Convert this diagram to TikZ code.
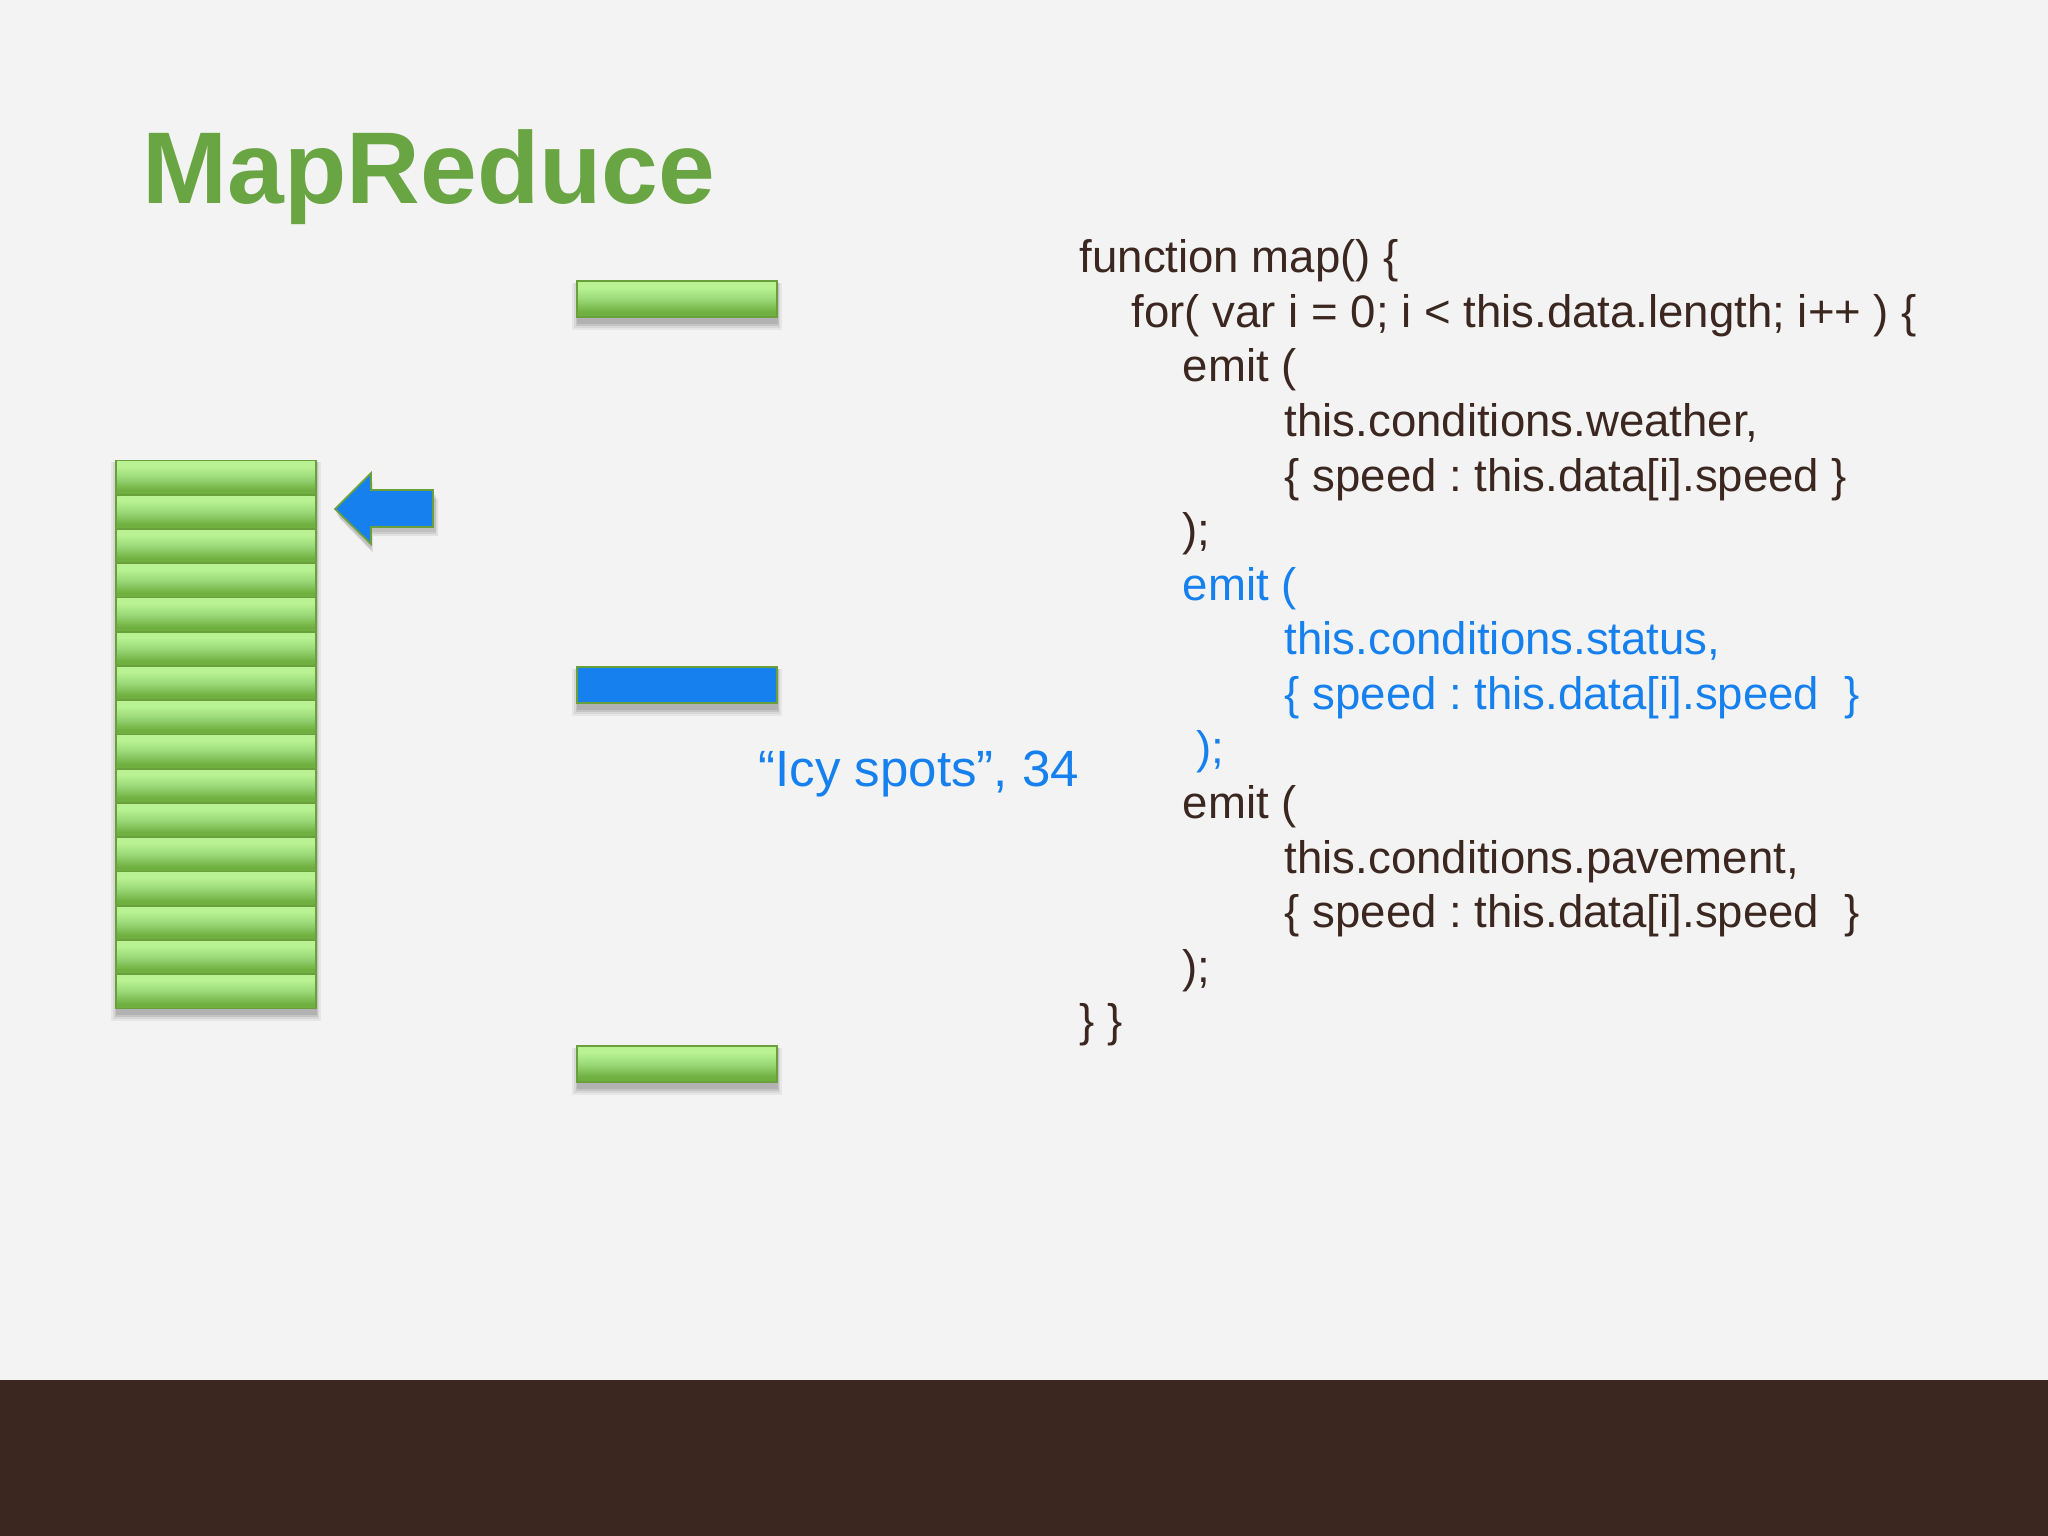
\documentclass[tikz,border=0pt]{standalone}
\usepackage{fontspec}
\setmainfont{Liberation Sans}
\frenchspacing
\definecolor{pagebg}{HTML}{F3F3F3}
\definecolor{brownbar}{HTML}{3B2720}
\definecolor{titlegreen}{HTML}{6AA544}
\definecolor{hiblue}{HTML}{1580EE}
\definecolor{edgegreen}{HTML}{6AA03C}
\definecolor{barlight}{HTML}{B8F293}
\definecolor{barmid}{HTML}{9AD878}
\definecolor{bardark}{HTML}{70B040}
\pgfdeclareverticalshading{barshade}{100bp}{color(0bp)=(bardark);color(25bp)=(bardark);color(32bp)=(bardark);color(50bp)=(barmid);color(66bp)=(barlight);color(75bp)=(barlight);color(100bp)=(barlight)}
\tikzset{
  x=0.01cm,y=-0.01cm,
  bar/.style={rectangle,inner sep=0pt,outer sep=0pt,minimum width=2cm,draw=edgegreen,line width=0.5pt,shading=barshade,shading angle=0},
  bluebar/.style={rectangle,inner sep=0pt,outer sep=0pt,minimum width=2cm,minimum height=0.36cm,draw=edgegreen,line width=0.5pt,fill=hiblue},
  code/.style={anchor=base west,inner sep=0pt,text=brownbar,font=\fontsize{12.96pt}{15pt}\selectfont},
  bluecode/.style={code,text=hiblue},
  soft/.style={fill=black,opacity=0.09,draw=none},
}
\newcommand{\softshadow}[4]{%
  \fill[soft,opacity=0.05] (#1-5,#2+2) rectangle (#3+5,#4+13);
  \fill[soft,opacity=0.06] (#1-3,#2+2) rectangle (#3+3,#4+11);
  \fill[soft] (#1-1,#2+2) rectangle (#3+2,#4+9);
  \fill[soft] (#1,#2+2) rectangle (#3+1,#4+7);
}
\begin{document}
\begin{tikzpicture}
\useasboundingbox (0,0) rectangle (2048,1536);
\fill[pagebg] (0,0) rectangle (2048,1536);
\fill[brownbar] (0,1380) rectangle (2048,1536);
\node[anchor=base west,inner sep=0pt,text=titlegreen,font=\fontsize{29pt}{32pt}\selectfont\bfseries] (title) at (142,203) {MapReduce};
% shadows
\softshadow{116}{460}{316}{1008}
\softshadow{577}{281}{777}{317}
\softshadow{577}{667}{777}{703}
\softshadow{577}{1046}{777}{1082}
\fill[soft,opacity=0.07] (371,478) -- (336,513) -- (371,549) -- (371,532) -- (436,532) -- (436,495) -- (371,495) -- cycle;
\fill[soft,opacity=0.08] (372,480) -- (337,515) -- (372,551) -- (372,534) -- (436,534) -- (436,497) -- (372,497) -- cycle;
\fill[soft,opacity=0.07] (373,482) -- (339,518) -- (373,553) -- (373,536) -- (438,536) -- (438,499) -- (373,499) -- cycle;
% stack
\foreach \i in {0,...,15}{
  \node[bar,minimum height=0.342cm] (s\i) at (216,{477.6+34.25*\i}) {};
}
% pointer arrow
\draw[edgegreen,line width=0.5pt,fill=hiblue] (371,473) coordinate (ahead) -- (335,509) -- (371,544) -- (371,527) -- (433,527) -- (433,490) -- (371,490) -- cycle;
% side bars
\node[bar,minimum height=0.36cm] (top) at (677,299) {};
\node[bluebar] (mid) at (677,685) {};
\node[bar,minimum height=0.36cm] (bot) at (677,1064) {};
% texts
\node[bluecode,font=\fontsize{14.5pt}{16pt}\selectfont] (icy) at (758,786) {“Icy spots”, 34};
\node[code] (l1) at (1079,272.5) {function map() \{};
\node[code] (l2) at (1131,327.2) {for( var i = 0; i < this.data.length; i++ ) \{};
\node[code] (l3) at (1182,381.8) {emit (};
\node[code] (l4) at (1284,436.4) {this.conditions.weather,};
\node[code] (l5) at (1284,491) {\{ speed : this.data[i].speed \}};
\node[code] (l6) at (1182,545.5) {);};
\node[bluecode] (l7) at (1182,600) {emit (};
\node[bluecode] (l8) at (1284,654.6) {this.conditions.status,};
\node[bluecode] (l9) at (1284,709.2) {\{ speed : this.data[i].speed \ \}};
\node[bluecode] (l10) at (1196,763.8) {);};
\node[code] (l11) at (1182,818.4) {emit (};
\node[code] (l12) at (1284,873) {this.conditions.pavement,};
\node[code] (l13) at (1284,927.6) {\{ speed : this.data[i].speed \ \}};
\node[code] (l14) at (1182,982.2) {);};
\node[code] (l15) at (1079,1036.8) {\} \}};
\end{tikzpicture}
\end{document}
